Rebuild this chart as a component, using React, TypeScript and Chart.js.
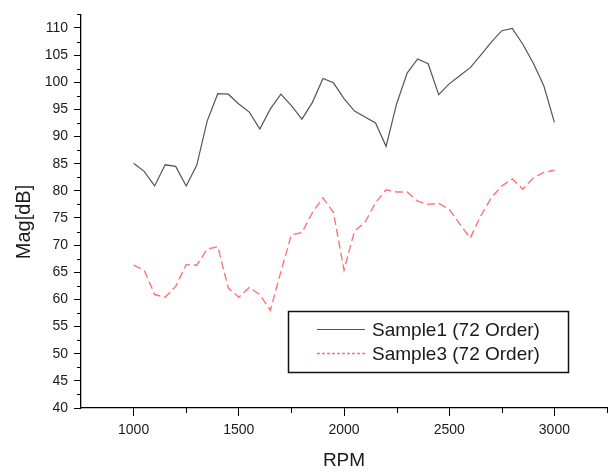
import React, { useEffect, useRef } from "react";
import { Chart, registerables } from "chart.js";

Chart.register(...registerables);

const rpm = [
  1000, 1050, 1100, 1150, 1200, 1250, 1300, 1350, 1400, 1450,
  1500, 1550, 1600, 1650, 1700, 1750, 1800, 1850, 1900, 1950,
  2000, 2050, 2100, 2150, 2200, 2250, 2300, 2350, 2400, 2450,
  2500, 2550, 2600, 2650, 2700, 2750, 2800, 2850, 2900, 2950, 3000,
];

const sample1 = [
  85.1, 83.6, 80.9, 84.8, 84.5, 80.9, 84.7, 92.9, 97.9, 97.8,
  96.0, 94.5, 91.4, 95.1, 97.8, 95.7, 93.2, 96.3, 100.7, 99.9,
  97.0, 94.7, 93.6, 92.5, 88.2, 96.0, 101.7, 104.3, 103.4, 97.7,
  99.7, 101.2, 102.7, 105.0, 107.4, 109.5, 109.9, 107.0, 103.5, 99.3, 92.6,
];

const sample3 = [
  66.3, 65.4, 60.9, 60.4, 62.4, 66.4, 66.3, 69.3, 69.7, 62.1,
  60.4, 62.2, 60.9, 58.0, 65.1, 71.9, 72.3, 76.0, 78.7, 76.0,
  65.4, 72.6, 74.2, 77.8, 80.2, 79.8, 79.8, 78.1, 77.5, 77.7,
  76.6, 73.9, 71.3, 75.4, 78.7, 80.9, 82.2, 80.3, 82.4, 83.4, 83.8,
];

const seriesLabels = ["Sample1 (72 Order)", "Sample3 (72 Order)"];
const xTitle = "RPM";
const yTitle = "Mag[dB]";

const xMajorTicks = [1000, 1500, 2000, 2500, 3000];
const xMinorTicks = [1250, 1750, 2250, 2750, 3250];
const yMajorTicks = [40, 45, 50, 55, 60, 65, 70, 75, 80, 85, 90, 95, 100, 105, 110];
const yMinorTicks = [42.5, 47.5, 52.5, 57.5, 62.5, 67.5, 72.5, 77.5, 82.5, 87.5, 92.5, 97.5, 102.5, 107.5, 112.5];

const FONT = 'Arial, "Liberation Sans", sans-serif';
const TEXT = "#1a1a1a";
const COLOR1 = "#555555";
const COLOR3 = "#ff7373";

const extrasPlugin = {
  id: "extras",
  afterDraw(chart: any) {
    const ctx = chart.ctx;
    const ca = chart.chartArea;
    const xs = chart.scales.x;
    const ys = chart.scales.y;
    ctx.save();
    ctx.strokeStyle = "#000";
    ctx.lineWidth = 1;
    ctx.beginPath();
    for (const v of yMinorTicks) {
      const py = Math.round(ys.getPixelForValue(v)) + 0.5;
      ctx.moveTo(ca.left - 4, py);
      ctx.lineTo(ca.left, py);
    }
    for (const v of xMinorTicks) {
      const px = Math.round(xs.getPixelForValue(v)) + 0.5;
      ctx.moveTo(px, ca.bottom);
      ctx.lineTo(px, ca.bottom + 5);
    }
    ctx.stroke();

    // y axis title
    ctx.save();
    ctx.translate(24, 222);
    ctx.rotate(-Math.PI / 2);
    ctx.font = `20px ${FONT}`;
    ctx.fillStyle = TEXT;
    ctx.textAlign = "center";
    ctx.textBaseline = "middle";
    ctx.fillText(yTitle, 0, 0);
    ctx.restore();

    // legend box
    const bx = 288.5, by = 311.5, bw = 280, bh = 61;
    ctx.fillStyle = "#fff";
    ctx.fillRect(bx, by, bw, bh);
    ctx.strokeStyle = "#111";
    ctx.lineWidth = 1.5;
    ctx.strokeRect(bx, by, bw, bh);

    const rows = [
      { y: 329.5, color: COLOR1, dash: [] as number[], w: 1 },
      { y: 353.5, color: COLOR3, dash: [3, 2], w: 1.3 },
    ];
    ctx.font = `19px ${FONT}`;
    ctx.textBaseline = "middle";
    ctx.textAlign = "left";
    rows.forEach((r, i) => {
      ctx.beginPath();
      ctx.setLineDash(r.dash);
      ctx.strokeStyle = r.color;
      ctx.lineWidth = r.w;
      ctx.moveTo(317, r.y);
      ctx.lineTo(365, r.y);
      ctx.stroke();
      ctx.setLineDash([]);
      ctx.fillStyle = TEXT;
      ctx.fillText(chart.data.datasets[i].label, 372, r.y + 1);
    });
    ctx.restore();
  },
};

export default function App() {
  const ref = useRef<HTMLCanvasElement | null>(null);

  useEffect(() => {
    if (!ref.current) return;
    const chart = new Chart(ref.current, {
      type: "line",
      data: {
        datasets: [
          {
            label: seriesLabels[0],
            data: rpm.map((x, i) => ({ x, y: sample1[i] })),
            borderColor: COLOR1,
            borderWidth: 1.2,
            pointRadius: 0,
            tension: 0,
            fill: false,
          },
          {
            label: seriesLabels[1],
            data: rpm.map((x, i) => ({ x, y: sample3[i] })),
            borderColor: COLOR3,
            borderWidth: 1.4,
            borderDash: [8, 4],
            pointRadius: 0,
            tension: 0,
            fill: false,
          },
        ],
      },
      options: {
        responsive: false,
        animation: false,
        layout: { padding: { top: 8, right: 7, left: 0, bottom: 0 } },
        plugins: {
          legend: { display: false },
          tooltip: { enabled: false },
        },
        scales: {
          x: {
            type: "linear",
            min: 750,
            max: 3250,
            afterBuildTicks: (s: any) => {
              s.ticks = xMajorTicks.map((v) => ({ value: v }));
            },
            afterFit: (s: any) => {
              s.height = 64;
            },
            grid: {
              display: true,
              drawOnChartArea: false,
              drawTicks: true,
              tickLength: 8,
              tickColor: "#000",
              color: "#000",
            },
            border: { display: true, color: "#000", width: 1.3 },
            ticks: {
              color: TEXT,
              font: { family: FONT, size: 14 },
              padding: 6,
              maxRotation: 0,
              autoSkip: false,
              callback: (v: any) => String(v),
            },
            title: {
              display: true,
              text: xTitle,
              color: TEXT,
              font: { family: FONT, size: 19 },
              padding: { top: 0, bottom: 0 },
            },
          },
          y: {
            type: "linear",
            min: 40,
            max: 112.5,
            afterBuildTicks: (s: any) => {
              s.ticks = yMajorTicks.map((v) => ({ value: v }));
            },
            afterFit: (s: any) => {
              s.width = 81;
            },
            grid: {
              display: true,
              drawOnChartArea: false,
              drawTicks: true,
              tickLength: 7,
              tickColor: "#000",
              color: "#000",
            },
            border: { display: true, color: "#000", width: 1.3 },
            ticks: {
              color: TEXT,
              font: { family: FONT, size: 14 },
              padding: 6,
              autoSkip: false,
              callback: (v: any) => String(v),
            },
            title: { display: false },
          },
        },
      },
      plugins: [extrasPlugin],
    });
    return () => chart.destroy();
  }, []);

  return (
    <div style={{ position: "absolute", left: 0, top: 0, width: 614, height: 472, background: "#fff" }}>
      <canvas ref={ref} width={614} height={472} style={{ display: "block" }} />
    </div>
  );
}
